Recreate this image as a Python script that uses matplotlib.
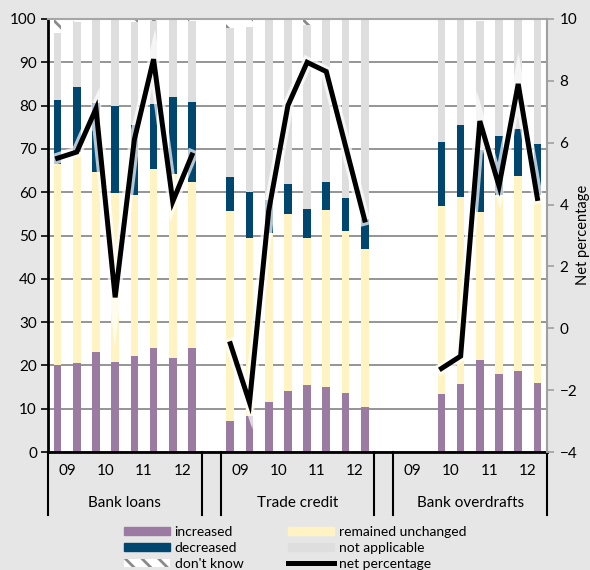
import numpy as np
import matplotlib
matplotlib.use('Agg')
import matplotlib.pyplot as plt
import matplotlib.patheffects as pe
from matplotlib.patches import Patch
from matplotlib.lines import Line2D

plt.rcParams['font.family'] = ['Lato', 'DejaVu Sans']
plt.rcParams['hatch.linewidth'] = 2.0

# survey shares (%) per half-year, 2009H1..2012H2
years = ['09', '10', '11', '12']
groups = ['Bank loans', 'Trade credit', 'Bank overdrafts']

loans_increased = [20.1, 20.5, 23.2, 20.9, 22.2, 24.0, 21.6, 24.0]
loans_unchanged = [46.5, 48.7, 41.4, 39.0, 37.1, 41.3, 42.7, 38.4]
loans_decreased = [14.7, 15.0, 16.1, 20.0, 16.2, 15.1, 17.6, 18.5]
loans_not_applicable = [15.5, 15.0, 19.3, 20.1, 23.9, 19.1, 18.1, 18.7]
loans_dont_know = [3.2, 0.8, 0.0, 0.0, 0.6, 0.5, 0.0, 0.4]
loans_net = [5.5, 5.7, 7.1, 1.0, 6.1, 8.7, 4.1, 5.6]

trade_increased = [7.2, 8.4, 11.5, 14.0, 15.5, 14.9, 13.6, 10.5]
trade_unchanged = [48.5, 41.0, 39.0, 40.9, 33.9, 41.0, 37.4, 36.3]
trade_decreased = [7.7, 10.7, 7.7, 6.9, 6.7, 6.5, 7.7, 7.0]
trade_not_applicable = [34.6, 38.1, 41.8, 38.2, 42.6, 37.6, 41.3, 46.2]
trade_dont_know = [2.0, 1.8, 0.0, 0.0, 1.3, 0.0, 0.0, 0.0]
trade_net = [-0.5, -2.4, 3.8, 7.2, 8.6, 8.3, 5.9, 3.5]

# overdrafts only asked from 2010H1 onwards
overdraft_increased = [13.4, 15.7, 21.2, 18.0, 18.7, 15.9]
overdraft_unchanged = [43.4, 43.3, 34.2, 41.4, 45.1, 43.4]
overdraft_decreased = [14.7, 16.5, 14.4, 13.6, 10.9, 11.8]
overdraft_not_applicable = [28.5, 24.5, 29.7, 27.0, 25.3, 28.9]
overdraft_dont_know = [0.0, 0.0, 0.5, 0.0, 0.0, 0.0]
overdraft_net = [-1.3, -0.9, 6.7, 4.6, 7.9, 4.2]

n_slots = 26
group_starts = [0, 9, 18]


def spread(loans, trade, overdraft):
    arr = np.full(n_slots, np.nan)
    arr[0:8] = loans
    arr[9:17] = trade
    arr[26 - len(overdraft):26] = overdraft
    return arr


series = [
    ('increased', spread(loans_increased, trade_increased, overdraft_increased),
     dict(color='#9b7ba1')),
    ('remained unchanged', spread(loans_unchanged, trade_unchanged, overdraft_unchanged),
     dict(color='#fff3c3')),
    ('decreased', spread(loans_decreased, trade_decreased, overdraft_decreased),
     dict(color='#00466f')),
    ('not applicable', spread(loans_not_applicable, trade_not_applicable, overdraft_not_applicable),
     dict(color='#dedede')),
    ("don't know", spread(loans_dont_know, trade_dont_know, overdraft_dont_know),
     dict(facecolor='white', edgecolor='#8a8a8a', hatch='\\\\', linewidth=0)),
]
net = spread(loans_net, trade_net, overdraft_net)

x = np.arange(n_slots)

fig = plt.figure(figsize=(5.9, 5.7), dpi=100, facecolor='#e6e6e6')
ax = fig.add_axes([48 / 590, 118 / 570, 499 / 590, 433 / 570])
ax.set_facecolor('white')

bottom = np.zeros(n_slots)
handles = {}
for name, vals, style in series:
    v = np.nan_to_num(vals)
    ax.bar(x, v, width=0.4, bottom=bottom, **style)
    handles[name] = Patch(**style)
    bottom = bottom + v

ax.set_xlim(-0.5, n_slots - 0.5)
ax.set_ylim(0, 100)
ax.set_yticks(np.arange(0, 101, 10))
ax.set_axisbelow(True)
ax.yaxis.grid(True, color='#8c8c8c', linewidth=1.3)
ax.set_xticks([])
ax.tick_params(axis='y', labelsize=11, length=5, width=1.2, color='black', pad=3)
ax.spines['left'].set_linewidth(2)
ax.spines['bottom'].set_linewidth(2)
ax.spines['top'].set_color('#a6a6a6')
ax.spines['top'].set_linewidth(1.5)
ax.spines['right'].set_visible(False)

# net percentage on the secondary axis
ax2 = ax.twinx()
ax2.plot(x, net, color='black', linewidth=3.6, solid_joinstyle='miter',
         path_effects=[pe.Stroke(linewidth=8, foreground='white', alpha=0.7), pe.Normal()])
ax2.set_ylim(-4, 10)
ax2.set_yticks(np.arange(-4, 11, 2))
ax2.tick_params(axis='y', labelsize=11, length=5, width=1.2, color='#a0a0a0', pad=4)
for side in ['left', 'top', 'bottom']:
    ax2.spines[side].set_visible(False)
ax2.spines['right'].set_color('#a0a0a0')
ax2.spines['right'].set_linewidth(1.5)
fig.text(583 / 590, 1 - 235 / 570, 'Net percentage', rotation=90,
         ha='center', va='center', fontsize=10.5)

# two-level category axis
trans = ax.get_xaxis_transform()
sep_bottom = -63 / 433
for start, label in zip(group_starts, groups):
    for k, yr in enumerate(years):
        ax.text(start + 2 * k + 0.5, -19 / 433, yr, transform=trans,
                ha='center', va='center', fontsize=11)
    ax.text(start + 3.5, -51 / 433, label, transform=trans,
            ha='center', va='center', fontsize=11)
    for edge in (start - 0.5, start + 7.5):
        ax.add_line(Line2D([edge, edge], [0, sep_bottom], transform=trans,
                           color='black', linewidth=1.5, clip_on=False))

net_handle = Line2D([], [], color='black', linewidth=3.6)
leg_handles = [handles['increased'], handles['decreased'], handles["don't know"],
               handles['remained unchanged'], handles['not applicable'], net_handle]
leg_labels = ['increased', 'decreased', "don't know",
              'remained unchanged', 'not applicable', 'net percentage']
fig.legend(leg_handles, leg_labels, ncol=2, loc='upper left',
           bbox_to_anchor=(124 / 590, 1 - 526 / 570), frameon=False,
           fontsize=10, handlelength=3.3, handleheight=0.5, handletextpad=0.35,
           labelspacing=0.28, columnspacing=3.2, borderpad=0, borderaxespad=0)

fig.savefig('out.png', dpi=100, facecolor=fig.get_facecolor())
